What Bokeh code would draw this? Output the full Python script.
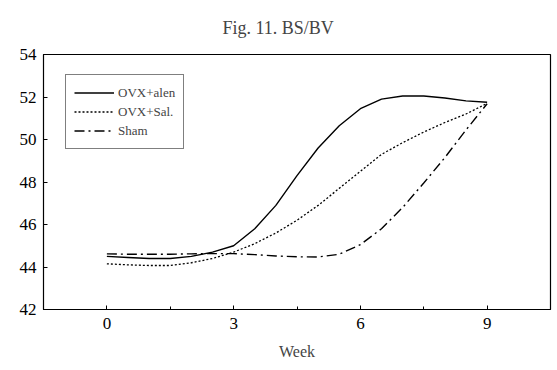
from bokeh.plotting import figure
from bokeh.models import Range1d, FixedTicker, Legend, LegendItem
from bokeh.embed import file_html
from bokeh.resources import INLINE

weeks = [0, 0.5, 1, 1.5, 2, 2.5, 3, 3.5, 4, 4.5, 5, 5.5, 6, 6.5, 7, 7.5, 8, 8.5, 9]
ovx_alen = [44.5, 44.45, 44.4, 44.4, 44.5, 44.7, 45.0, 45.8, 46.9, 48.3, 49.6, 50.65,
            51.45, 51.9, 52.05, 52.05, 51.95, 51.82, 51.75]
ovx_sal = [44.15, 44.1, 44.07, 44.07, 44.2, 44.4, 44.7, 45.1, 45.6, 46.2, 46.9, 47.7,
           48.5, 49.3, 49.85, 50.35, 50.8, 51.2, 51.7]
sham = [44.62, 44.6, 44.6, 44.6, 44.62, 44.63, 44.63, 44.58, 44.52, 44.48, 44.47, 44.6,
        45.05, 45.8, 46.8, 47.95, 49.15, 50.45, 51.68]

x_ticks = [0, 3, 6, 9]
x_minor = [-1.5, 1.5, 4.5, 7.5, 10.5]
y_ticks = [42, 44, 46, 48, 50, 52, 54]
title_text = "Fig. 11. BS/BV"

FONT = "Liberation Serif"

p = figure(width=557, height=370, output_backend="svg", toolbar_location=None,
           x_range=Range1d(-1.5, 10.5), y_range=Range1d(42, 54),
           min_border_left=43, min_border_right=7, min_border_top=54, min_border_bottom=61,
           title=title_text)
p.title.align = "left"
p.title.offset = 179
p.title.vertical_align = "top"
p.title.standoff = 30
p.title.text_font = FONT
p.title.text_font_size = "18px"
p.title.text_font_style = "normal"

p.grid.visible = False
p.outline_line_color = "black"
p.outline_line_width = 1.2
p.background_fill_color = "white"
p.border_fill_color = "white"

for ax in (p.xaxis[0], p.yaxis[0]):
    ax.axis_line_color = "black"
    ax.major_tick_out = 0
    ax.major_tick_in = 4
    ax.minor_tick_out = 0
    ax.minor_tick_in = 3
    ax.major_tick_line_color = "black"
    ax.minor_tick_line_color = "black"
    ax.major_label_text_font = FONT
    ax.major_label_text_font_size = "17px"
    ax.major_label_text_color = "black"
    ax.axis_label_text_font = FONT
    ax.axis_label_text_font_style = "normal"
    ax.axis_label_text_font_size = "16px"

p.xaxis.ticker = FixedTicker(ticks=x_ticks, minor_ticks=x_minor)
p.xaxis.major_label_standoff = 8
p.xaxis.axis_label = "Week"
p.xaxis.axis_label_standoff = 11
p.yaxis.ticker = FixedTicker(ticks=y_ticks, minor_ticks=[])
p.yaxis.major_label_standoff = 7

r1 = p.line(weeks, ovx_alen, line_color="black", line_width=1.4)
r2 = p.line(weeks, ovx_sal, line_color="black", line_width=1.3, line_dash="2 2")
r3 = p.line(weeks, sham, line_color="black", line_width=1.4, line_dash="10 4 2 4")

legend = Legend(items=[LegendItem(label="OVX+alen", renderers=[r1]),
                       LegendItem(label="OVX+Sal.", renderers=[r2]),
                       LegendItem(label="Sham", renderers=[r3])],
                location=(22, 160))
legend.border_line_color = "black"
legend.border_line_width = 1.2
legend.background_fill_alpha = 1
legend.label_text_font = FONT
legend.label_text_font_size = "13px"
legend.glyph_width = 40
legend.glyph_height = 19
legend.label_height = 19
legend.label_standoff = 4
legend.spacing = 0
legend.padding = 8
legend.margin = 0
p.add_layout(legend, "center")

open("out.html", "w").write(file_html(p, INLINE))
